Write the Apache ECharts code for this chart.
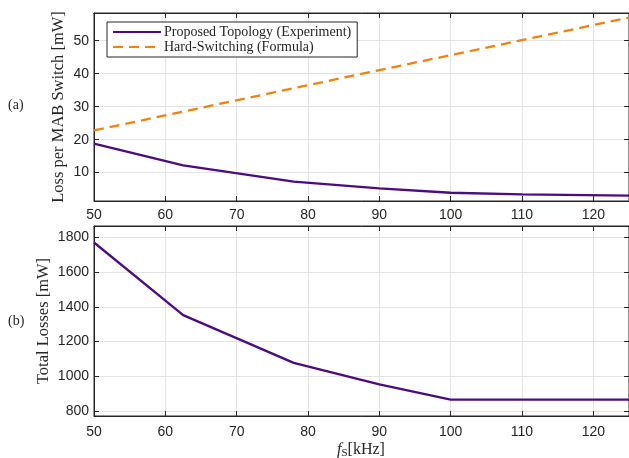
<!DOCTYPE html>
<html>
<head>
<meta charset="utf-8">
<script src="https://cdn.jsdelivr.net/npm/echarts@6/dist/echarts.min.js"></script>
<style>html,body{margin:0;padding:0;background:#fff}#c{width:629px;height:458px}</style>
</head>
<body>
<div id="c"></div>
<script>
const freq = [50, 62.5, 78, 90, 100, 110, 125];
const lossProposed = [18.8, 12.2, 7.3, 5.2, 3.9, 3.4, 3.0];
const lossHard = [22.8, 28.5, 35.6, 41.1, 45.6, 50.2, 57.0];
const totalLoss = [1770, 1352, 1077, 953, 865, 865, 865];
const xTicks = [50, 60, 70, 80, 90, 100, 110, 120];
const yTicksA = [10, 20, 30, 40, 50];
const yTicksB = [800, 1000, 1200, 1400, 1600, 1800];
const names = ['Proposed Topology (Experiment)', 'Hard-Switching (Formula)'];

const C = '#262626';
const GRID = '#e3e3e3';
const SERIF = '"Liberation Serif", "DejaVu Serif", serif';
const SANS = '"Liberation Sans", Arial, sans-serif';
const pair = (xs, ys) => xs.map((x, i) => [x, ys[i]]);
const plain = v => String(v);

const grids = [
  {left: 94, top: 13, width: 537, height: 188, show: true, borderColor: C, borderWidth: 1},
  {left: 94, top: 226, width: 537, height: 190, show: true, borderColor: C, borderWidth: 1}
];
function xAx(g, pos, margin) {
  const main = pos === 'bottom';
  return {
    type: 'value', gridIndex: g, position: pos, min: 50, max: 125,
    axisLine: {show: true, onZero: false, lineStyle: {color: C, width: 1}},
    axisTick: {show: true, inside: true, length: 5, customValues: xTicks, lineStyle: {color: C}},
    axisLabel: {show: main, customValues: xTicks, formatter: plain, color: C, fontFamily: SANS, fontSize: 14, margin: margin || 7},
    splitLine: {show: main, lineStyle: {color: GRID, width: 1}}
  };
}
function yAx(g, pos, mn, mx, ticks) {
  const main = pos === 'left';
  return {
    type: 'value', gridIndex: g, position: pos, min: mn, max: mx,
    axisLine: {show: true, onZero: false, lineStyle: {color: C, width: 1}},
    axisTick: {show: true, inside: true, length: 5, customValues: ticks, lineStyle: {color: C}},
    axisLabel: {show: main, customValues: ticks, formatter: plain, color: C, fontFamily: SANS, fontSize: 14, margin: 5},
    splitLine: {show: main, lineStyle: {color: GRID, width: 1}}
  };
}
const xAxes = [xAx(0, 'bottom', 7), xAx(0, 'top'), xAx(1, 'bottom', 9), xAx(1, 'top')];
const yAxes = [
  Object.assign(yAx(0, 'left', 1.4, 58.4, yTicksA), {name: 'Loss per MAB Switch [mW]', nameLocation: 'middle', nameGap: 27, nameMoveOverlap: false, nameTextStyle: {fontFamily: SERIF, fontSize: 16.5, color: C}}),
  yAx(0, 'right', 1.4, 58.4, yTicksA),
  Object.assign(yAx(1, 'left', 771, 1865, yTicksB), {name: 'Total Losses [mW]', nameLocation: 'middle', nameGap: 42, nameMoveOverlap: false, nameTextStyle: {fontFamily: SERIF, fontSize: 16.5, color: C}}),
  yAx(1, 'right', 771, 1865, yTicksB)
];
const PURPLE = '#4b0c80';
const ORANGE = '#f0820f';
const option = {
  animation: false,
  backgroundColor: '#fff',
  grid: grids,
  xAxis: xAxes,
  yAxis: yAxes,
  legend: {
    left: 107, top: 22, orient: 'vertical',
    backgroundColor: '#fff', borderColor: C, borderWidth: 1, borderRadius: 0,
    padding: [3, 6, 3, 5], itemGap: 1, itemWidth: 48, itemHeight: 14,
    itemStyle: {opacity: 0, borderWidth: 0},
    textStyle: {fontFamily: SERIF, fontSize: 14, color: C, padding: [0, 0, 0, -2]},
    data: names
  },
  series: [
    {name: names[0], type: 'line', xAxisIndex: 0, yAxisIndex: 0, data: pair(freq, lossProposed), symbol: 'none', color: PURPLE, lineStyle: {width: 2.3, color: PURPLE}},
    {name: names[1], type: 'line', xAxisIndex: 0, yAxisIndex: 0, data: pair(freq, lossHard), symbol: 'none', color: ORANGE, lineStyle: {width: 2.3, color: ORANGE, type: [10, 6]}},
    {name: 'total', type: 'line', xAxisIndex: 2, yAxisIndex: 2, data: pair(freq, totalLoss), symbol: 'none', color: PURPLE, lineStyle: {width: 2.3, color: PURPLE}}
  ],
  graphic: [
    {type: 'text', left: 8, top: 98, style: {text: '(a)', font: '14px ' + SERIF, fill: C}},
    {type: 'text', left: 8, top: 314, style: {text: '(b)', font: '14px ' + SERIF, fill: C}},
    {type: 'text', left: 337, top: 442, style: {
      rich: {
        f: {fontFamily: SERIF, fontStyle: 'italic', fontSize: 16, fill: C},
        s: {fontFamily: SERIF, fontSize: 11, fill: C, padding: [6, 0, 0, 0]},
        t: {fontFamily: SERIF, fontSize: 16, fill: C}
      },
      text: '{f|f}{s|S}{t|[kHz]}'
    }}
  ]
};
const chart = echarts.init(document.getElementById('c'), null, {renderer: 'canvas'});
chart.setOption(option);
</script>
</body>
</html>
